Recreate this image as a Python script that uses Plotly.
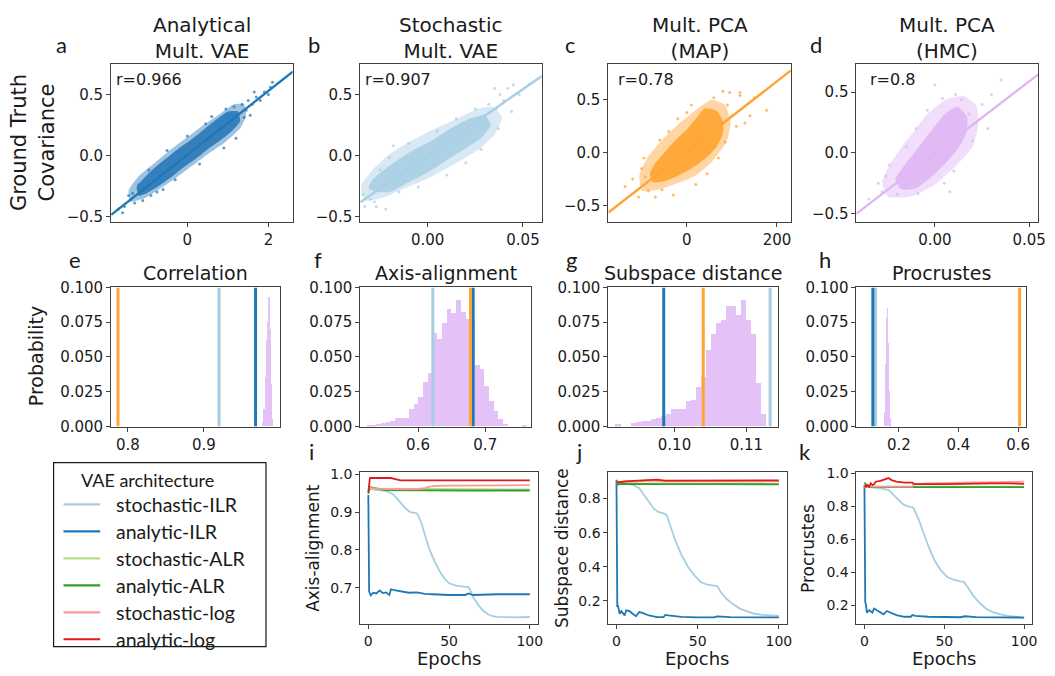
import plotly.graph_objects as go

# ======================= DATA =======================
# ---- Row 1: scatter of estimated vs ground-truth covariance (hand-read) ----
a_core_x = [-1.2, -1.0, -0.7, -0.4, -0.1, 0.2, 0.5, 0.8, 1.1, 1.3, 1.25, 1.0, 0.7, 0.4, 0.1, -0.2, -0.5, -0.8, -1.05, -1.25]
a_core_y = [-0.33, -0.31, -0.25, -0.18, -0.1, -0.03, 0.05, 0.12, 0.2, 0.28, 0.36, 0.36, 0.29, 0.21, 0.13, 0.06, -0.02, -0.1, -0.18, -0.26]
a_halo_x = [-1.4, -1.05, -0.7, -0.3, 0.1, 0.5, 0.9, 1.3, 1.45, 1.4, 1.15, 0.8, 0.4, 0.0, -0.4, -0.8, -1.2, -1.45]
a_halo_y = [-0.38, -0.35, -0.28, -0.19, -0.09, 0.01, 0.1, 0.22, 0.33, 0.42, 0.42, 0.34, 0.25, 0.15, 0.05, -0.06, -0.17, -0.29]
a_pts_x = [-1.55, -1.4, -1.35, -1.3, -1.45, -1.6, -1.1, -0.9, -0.95, -0.6, -0.3, -0.5, 0.0, 0.3, 0.6, 0.9, 1.2, 1.35,
           1.45, 1.5, 1.4, 1.6, 1.7, 1.8, 1.9, 2.0, 2.1, 2.05, 1.55, 1.65, 0.95, -1.2, -0.75, 0.45, 1.15, -1.7]
a_pts_y = [-0.42, -0.36, -0.31, -0.39, -0.33, -0.47, -0.37, -0.33, -0.12, -0.28, -0.2, 0.04, 0.16, -0.07, 0.32, 0.06, 0.14, 0.42,
           0.37, 0.45, 0.31, 0.42, 0.48, 0.45, 0.52, 0.5, 0.6, 0.56, 0.33, 0.52, 0.38, -0.24, -0.3, 0.26, 0.4, -0.44]

b_core_x = [-0.027, -0.02, -0.01, 0.0, 0.01, 0.02, 0.028, 0.033, 0.03, 0.022, 0.012, 0.002, -0.008, -0.016, -0.023, -0.029, -0.031]
b_core_y = [-0.30, -0.30, -0.22, -0.14, -0.04, 0.06, 0.14, 0.25, 0.33, 0.3, 0.22, 0.12, 0.04, -0.04, -0.12, -0.2, -0.27]
b_halo_x = [-0.033, -0.024, -0.012, 0.0, 0.013, 0.026, 0.035, 0.039, 0.034, 0.026, 0.014, 0.0, -0.011, -0.021, -0.029, -0.035]
b_halo_y = [-0.37, -0.35, -0.27, -0.19, -0.08, 0.04, 0.17, 0.31, 0.4, 0.38, 0.29, 0.19, 0.1, 0.0, -0.12, -0.25]
b_pts_x = [-0.033, -0.03, -0.034, -0.028, -0.025, -0.02, -0.015, -0.01, -0.005, 0.005, 0.01, 0.015, 0.02, 0.025, 0.032, 0.036,
           0.038, 0.04, 0.042, 0.045, 0.035, 0.048, 0.037, 0.044, -0.022, 0.028, -0.018, 0.0535, -0.027]
b_pts_y = [-0.42, -0.36, -0.32, -0.38, -0.12, -0.02, -0.3, 0.1, -0.26, 0.2, -0.16, 0.3, -0.06, 0.38, 0.42, 0.38,
           0.5, 0.45, 0.55, 0.58, 0.55, 0.5, 0.22, 0.36, -0.44, 0.05, 0.08, 0.585, -0.42]

c_core_x = [-75, -50, -20, 10, 40, 65, 80, 80, 65, 40, 20, 0, -25, -50, -70, -82]
c_core_y = [-0.28, -0.27, -0.22, -0.15, -0.06, 0.05, 0.18, 0.3, 0.4, 0.42, 0.32, 0.22, 0.12, 0.0, -0.1, -0.2]
c_halo_x = [-100, -65, -28, 18, 55, 88, 97, 85, 55, 22, -18, -55, -88, -105]
c_halo_y = [-0.36, -0.35, -0.3, -0.22, -0.09, 0.1, 0.28, 0.45, 0.5, 0.41, 0.27, 0.12, -0.05, -0.21]
c_pts_x = [-137, -107, -92, -100, -85, -70, -55, -120, -60, -40, -20, 0, 20, 45, 70, 95, 118, 129, 177, 150, 100, 90, 110,
           60, 80, -30, 10, 140, 85, 118, -95]
c_pts_y = [-0.32, -0.42, -0.23, -0.15, -0.36, -0.42, -0.35, -0.25, 0.12, 0.2, 0.32, 0.38, -0.3, -0.2, -0.05, 0.57, 0.54, 0.28,
           0.40, 0.52, 0.35, 0.45, 0.25, 0.52, 0.58, -0.4, 0.45, 0.35, 0.1, 0.57, -0.05]

d_core_x = [-0.018, -0.01, -0.002, 0.006, 0.013, 0.017, 0.017, 0.012, 0.006, 0.0, -0.006, -0.012, -0.017, -0.021]
d_core_y = [-0.3, -0.29, -0.2, -0.08, 0.05, 0.18, 0.3, 0.38, 0.33, 0.22, 0.1, -0.02, -0.12, -0.22]
d_halo_x = [-0.025, -0.013, 0.0, 0.011, 0.02, 0.023, 0.022, 0.015, 0.006, -0.004, -0.011, -0.018, -0.024, -0.028]
d_halo_y = [-0.36, -0.36, -0.26, -0.11, 0.05, 0.23, 0.39, 0.47, 0.44, 0.32, 0.18, 0.04, -0.1, -0.24]
d_pts_x = [-0.026, -0.02, -0.009, 0.0, 0.011, 0.018, 0.035, 0.025, 0.03, 0.022, 0.02, -0.03, -0.028, -0.015, -0.01, -0.004,
           0.005, 0.01, 0.028, 0.014, -0.024, 0.004, -0.035, 0.008]
d_pts_y = [-0.19, -0.34, -0.335, 0.56, 0.48, 0.32, 0.6, 0.4, 0.48, 0.25, 0.1, -0.25, -0.32, 0.05, 0.2, 0.35,
           -0.25, -0.15, 0.2, 0.44, -0.1, 0.45, -0.38, -0.32]

r_labels = ["r=0.966", "r=0.907", "r=0.78", "r=0.8"]
fit_slope = [0.262, 10.87, 0.003316, 11.87]
fit_intercept = [0.005, 0.0, 0.012, -0.006]
top_titles = ["Analytical<br>Mult. VAE", "Stochastic<br>Mult. VAE", "Mult. PCA<br>(MAP)", "Mult. PCA<br>(HMC)"]

# ---- Row 2: histograms (HMC samples) + model values ----
e_centers = [0.9785, 0.980, 0.9815, 0.983, 0.9845, 0.986, 0.9875, 0.989, 0.9905]
e_heights = [0.003, 0.012, 0.035, 0.062, 0.075, 0.093, 0.07, 0.03, 0.005]
e_width = 0.0015
f_centers = [0.5275, 0.5345, 0.5415, 0.5485, 0.5555, 0.5625, 0.5695, 0.5765, 0.5835, 0.5905, 0.5975, 0.6045, 0.6115,
             0.6185, 0.6255, 0.6325, 0.6395, 0.6465, 0.6535, 0.6605, 0.6675, 0.6745, 0.6815, 0.6885, 0.6955, 0.7025,
             0.7095, 0.7165, 0.7235, 0.7305, 0.7585]
f_heights = [0.001, 0.001, 0.0015, 0.002, 0.0028, 0.004, 0.006, 0.006, 0.006, 0.012, 0.016, 0.021, 0.032,
             0.038, 0.067, 0.063, 0.074, 0.084, 0.081, 0.091, 0.082, 0.077, 0.075, 0.044, 0.041, 0.029,
             0.018, 0.011, 0.005, 0.0015, 0.001]
f_width = 0.007
g_centers = [0.09219, 0.09428, 0.09498, 0.09567, 0.09637, 0.09707, 0.09777, 0.09847, 0.09916, 0.09986, 0.10056,
             0.10126, 0.10195, 0.10265, 0.10335, 0.10405, 0.10474, 0.10544, 0.10614, 0.10684, 0.10753, 0.10823,
             0.10893, 0.10963, 0.11033, 0.11102, 0.11172, 0.11242]
g_heights = [0.0014, 0.002, 0.003, 0.0035, 0.004, 0.0055, 0.006, 0.007, 0.0085, 0.012, 0.012,
             0.012, 0.018, 0.019, 0.028, 0.035, 0.055, 0.066, 0.074, 0.076, 0.0865, 0.0865,
             0.08, 0.091, 0.076, 0.066, 0.031, 0.0085]
g_width = 0.0007
h_centers = [0.1538, 0.1563, 0.1588, 0.1613, 0.1638, 0.1663, 0.1688, 0.1713, 0.1738]
h_heights = [0.002, 0.01, 0.045, 0.078, 0.085, 0.06, 0.025, 0.006, 0.001]
h_width = 0.0025
mid_titles = ["Correlation", "Axis-alignment", "Subspace distance", "Procrustes"]
# model values: [stochastic VAE, analytic VAE, MAP]
e_vlines = [0.92, 0.968, 0.787]
f_vlines = [0.622, 0.682, 0.678]
g_vlines = [0.1133, 0.0985, 0.104]
h_vlines = [0.122, 0.113, 0.605]

# ---- Row 3: training curves ----
series_names = ["stochastic-ILR", "analytic-ILR", "stochastic-ALR", "analytic-ALR", "stochastic-log", "analytic-log"]
series_colors = ["#a6cee3", "#1f78b4", "#b2df8a", "#33a02c", "#fb9a99", "#e31a1c"]

# Axis-alignment (i)
i_sILR_ep = [0, 5, 10, 13, 15, 18, 20, 23, 26, 30, 31, 33, 35, 38, 41, 44, 47, 50, 55, 60, 62, 63, 65, 68, 71, 74, 77, 80, 90, 100]
i_sILR = [0.962, 0.958, 0.957, 0.952, 0.948, 0.935, 0.925, 0.91, 0.9, 0.897, 0.89, 0.87, 0.84, 0.8, 0.77, 0.745, 0.725, 0.712,
          0.705, 0.703, 0.702, 0.695, 0.675, 0.655, 0.64, 0.63, 0.625, 0.623, 0.622, 0.623]
i_aILR_ep = [0, 0.5, 1.5, 3, 5, 7, 9, 11, 13, 14, 16, 20, 25, 30, 35, 40, 50, 60, 62, 65, 70, 80, 100]
i_aILR = [0.945, 0.69, 0.68, 0.687, 0.685, 0.693, 0.686, 0.688, 0.681, 0.696, 0.694, 0.69, 0.687, 0.688, 0.684, 0.683,
          0.681, 0.681, 0.685, 0.681, 0.682, 0.683, 0.683]
i_sALR_ep = [0, 1, 30, 60, 100]
i_sALR = [0.955, 0.962, 0.961, 0.96, 0.96]
i_aALR_ep = [0, 1, 10, 30, 60, 100]
i_aALR = [0.948, 0.966, 0.958, 0.957, 0.957, 0.957]
i_slog_ep = [0, 1, 5, 10, 20, 30, 35, 38, 42, 50, 100]
i_slog = [0.962, 0.964, 0.962, 0.961, 0.961, 0.961, 0.963, 0.967, 0.969, 0.970, 0.971]
i_alog_ep = [0, 1, 14, 17, 20, 100]
i_alog = [0.952, 0.99, 0.99, 0.986, 0.984, 0.984]

# Subspace distance (j)
j_sILR_ep = [0, 10, 14, 17, 20, 23, 26, 30, 31, 33, 36, 40, 44, 48, 52, 56, 60, 62, 64, 68, 72, 76, 80, 85, 90, 100]
j_sILR = [0.9, 0.88, 0.86, 0.82, 0.78, 0.74, 0.72, 0.71, 0.7, 0.64, 0.56, 0.47, 0.4, 0.35, 0.31, 0.295, 0.29, 0.287,
          0.255, 0.21, 0.18, 0.155, 0.14, 0.125, 0.118, 0.113]
j_aILR_ep = [0, 0.5, 1, 2, 3, 4, 5, 6, 8, 10, 12, 14, 16, 20, 25, 29, 30, 32, 40, 50, 60, 62, 65, 70, 100]
j_aILR = [0.91, 0.17, 0.17, 0.125, 0.14, 0.13, 0.115, 0.145, 0.14, 0.125, 0.11, 0.135, 0.13, 0.115, 0.105, 0.105,
          0.118, 0.115, 0.107, 0.104, 0.104, 0.11, 0.108, 0.105, 0.104]
j_sALR_ep = [0, 50, 100]
j_sALR = [0.888, 0.888, 0.887]
j_aALR_ep = [0, 1, 3, 10, 30, 60, 100]
j_aALR = [0.89, 0.882, 0.885, 0.884, 0.884, 0.884, 0.883]
j_slog_ep = [0, 10, 20, 30, 50, 100]
j_slog = [0.895, 0.9, 0.905, 0.9, 0.9, 0.9]
j_alog_ep = [0, 2, 5, 10, 15, 20, 25, 30, 40, 50, 60, 70, 80, 90, 100]
j_alog = [0.895, 0.895, 0.9, 0.903, 0.907, 0.91, 0.91, 0.905, 0.905, 0.904, 0.905, 0.906, 0.905, 0.906, 0.906]

# Procrustes (k)
k_sILR_ep = [0, 10, 15, 18, 21, 24, 27, 30, 31, 34, 37, 40, 44, 48, 52, 56, 60, 62, 64, 68, 72, 76, 80, 85, 90, 100]
k_sILR = [0.92, 0.91, 0.9, 0.87, 0.84, 0.815, 0.8, 0.795, 0.785, 0.72, 0.64, 0.56, 0.47, 0.41, 0.37, 0.355, 0.345, 0.343,
          0.32, 0.26, 0.215, 0.18, 0.16, 0.145, 0.135, 0.125]
k_aILR_ep = [0, 0.5, 1, 1.5, 3, 5, 6, 8, 10, 12, 14, 16, 20, 25, 29, 30, 32, 40, 50, 60, 63, 66, 70, 100]
k_aILR = [0.93, 0.22, 0.2, 0.155, 0.17, 0.155, 0.18, 0.17, 0.16, 0.145, 0.165, 0.155, 0.14, 0.13, 0.13, 0.14, 0.135,
          0.13, 0.128, 0.127, 0.133, 0.13, 0.128, 0.125]
k_sALR_ep = [0, 50, 100]
k_sALR = [0.92, 0.92, 0.92]
k_aALR_ep = [0, 1, 2, 5, 20, 50, 100]
k_aALR = [0.945, 0.93, 0.92, 0.918, 0.918, 0.917, 0.917]
k_slog_ep = [0, 10, 20, 30, 31, 40, 60, 80, 100]
k_slog = [0.92, 0.92, 0.92, 0.92, 0.935, 0.94, 0.945, 0.948, 0.95]
k_alog_ep = [0, 1, 2, 3, 4, 5, 6, 7, 10, 13, 15, 17, 20, 25, 30, 31, 40, 50, 60, 70, 80, 90, 100]
k_alog = [0.93, 0.92, 0.93, 0.92, 0.94, 0.93, 0.935, 0.95, 0.955, 0.965, 0.972, 0.96, 0.95, 0.945, 0.945, 0.935,
          0.933, 0.935, 0.937, 0.94, 0.94, 0.94, 0.937]
bottom_ylabels = ["Axis-alignment", "Subspace distance", "Procrustes"]

# ======================= FIGURE =======================
W, H = 1055, 676
FONT = "DejaVu Sans"
LFONT = "Lato"
TXT = "#1a1a1a"
C_LB, C_DB, C_OR = "#a6cee3", "#1f78b4", "#ffa533"
HIST_C = "#e4c2f7"

fig = go.Figure()

# pixel boxes (x0, x1, y0, y1)
boxes = {
    1: (112, 295, 56, 219), 2: (363, 546, 56, 219), 3: (613, 797, 56, 219), 4: (863, 1046, 56, 219),
    5: (112, 282, 286, 429), 6: (363, 535, 286, 429), 7: (613, 784, 286, 429), 8: (863, 1034, 286, 429),
    9: (363, 542, 476, 632), 10: (613, 793, 476, 632), 11: (863, 1040, 476, 632),
}
xr = {1: [-1.88, 2.6], 2: [-0.0354, 0.0599], 3: [-174, 231], 4: [-0.0416, 0.0547],
      5: [0.778, 1.0], 6: [0.514, 0.768], 7: [0.0908, 0.1144], 8: [0.058, 0.627],
      9: [-5, 105], 10: [-5, 105], 11: [-5, 105]}
yr = {1: [-0.548, 0.754], 2: [-0.548, 0.754], 3: [-0.657, 0.843], 4: [-0.57, 0.735],
      5: [0, 0.1], 6: [0, 0.1], 7: [0, 0.1], 8: [0, 0.1],
      9: [0.604, 1.005], 10: [0.064, 0.953], 11: [0.085, 1.007]}
xt = {1: ([0, 2], ["0", "2"]), 2: ([0, 0.05], ["0.00", "0.05"]), 3: ([0, 200], ["0", "200"]),
      4: ([0, 0.05], ["0.00", "0.05"]), 5: ([0.8, 0.9], ["0.8", "0.9"]), 6: ([0.6, 0.7], ["0.6", "0.7"]),
      7: ([0.10, 0.11], ["0.10", "0.11"]), 8: ([0.2, 0.4, 0.6], ["0.2", "0.4", "0.6"]),
      9: ([0, 50, 100], ["0", "50", "100"]), 10: ([0, 50, 100], ["0", "50", "100"]),
      11: ([0, 50, 100], ["0", "50", "100"])}
pv = [0, 0.025, 0.05, 0.075, 0.1]
pt = ["0.000", "0.025", "0.050", "0.075", "0.100"]
yt = {1: ([-0.5, 0, 0.5], ["\u22120.5", "0.0", "0.5"]), 2: ([-0.5, 0, 0.5], ["\u22120.5", "0.0", "0.5"]),
      3: ([-0.5, 0, 0.5], ["\u22120.5", "0.0", "0.5"]), 4: ([-0.5, 0, 0.5], ["\u22120.5", "0.0", "0.5"]),
      5: (pv, pt), 6: (pv, pt), 7: (pv, pt), 8: (pv, pt),
      9: ([0.7, 0.8, 0.9, 1.0], ["0.7", "0.8", "0.9", "1.0"]),
      10: ([0.2, 0.4, 0.6, 0.8], ["0.2", "0.4", "0.6", "0.8"]),
      11: ([0.2, 0.4, 0.6, 0.8, 1.0], ["0.2", "0.4", "0.6", "0.8", "1.0"])}

axkw = dict(showline=True, mirror=True, linecolor="#404040", linewidth=1, ticks="outside", ticklen=4,
            tickcolor="#404040", showgrid=False, zeroline=False, fixedrange=True)
for n, (x0, x1, y0, y1) in boxes.items():
    fs = 14 if n >= 9 else 15
    xa = dict(axkw, domain=[x0 / W, x1 / W], range=xr[n], anchor=f"y{n}", tickvals=xt[n][0], ticktext=xt[n][1],
              tickfont=dict(family=FONT, size=fs, color=TXT))
    ya = dict(axkw, domain=[1 - y1 / H, 1 - y0 / H], range=yr[n], anchor=f"x{n}", tickvals=yt[n][0],
              ticktext=yt[n][1], tickfont=dict(family=FONT, size=fs, color=TXT))
    sfx = "" if n == 1 else str(n)
    fig.update_layout(**{f"xaxis{sfx}": xa, f"yaxis{sfx}": ya})


def ax(n):
    return ("x" if n == 1 else f"x{n}"), ("y" if n == 1 else f"y{n}")


# ---- Row 1 ----
row1 = [(a_halo_x, a_halo_y, a_core_x, a_core_y, a_pts_x, a_pts_y, "#2a7ab9"),
        (b_halo_x, b_halo_y, b_core_x, b_core_y, b_pts_x, b_pts_y, "#a9cfe5"),
        (c_halo_x, c_halo_y, c_core_x, c_core_y, c_pts_x, c_pts_y, "#ffa533"),
        (d_halo_x, d_halo_y, d_core_x, d_core_y, d_pts_x, d_pts_y, "#dfb6f4")]
for k, (hx, hy, cx, cy, px, py, col) in enumerate(row1):
    n = k + 1
    xa, ya = ax(n)
    fig.add_trace(go.Scatter(x=hx + [hx[0]], y=hy + [hy[0]], mode="lines", fill="toself", fillcolor=col,
                             line=dict(width=0, color=col, shape="spline", smoothing=0.5),
                             opacity=0.45, xaxis=xa, yaxis=ya, showlegend=False, hoverinfo="skip"))
    fig.add_trace(go.Scatter(x=cx + [cx[0]], y=cy + [cy[0]], mode="lines", fill="toself", fillcolor=col,
                             line=dict(width=0, color=col, shape="spline", smoothing=0.5),
                             opacity=0.92, xaxis=xa, yaxis=ya, showlegend=False, hoverinfo="skip"))
    fig.add_trace(go.Scatter(x=px, y=py, mode="markers", marker=dict(size=3, color=col, opacity=0.75),
                             xaxis=xa, yaxis=ya, showlegend=False, hoverinfo="skip"))
    lx = xr[n]
    ly = [fit_slope[k] * v + fit_intercept[k] for v in lx]
    lc = C_DB if n == 1 else col
    fig.add_trace(go.Scatter(x=lx, y=ly, mode="lines", line=dict(color=lc, width=2.4),
                             xaxis=xa, yaxis=ya, showlegend=False, hoverinfo="skip"))

# ---- Row 2 ----
row2 = [(e_centers, e_heights, e_width, e_vlines), (f_centers, f_heights, f_width, f_vlines),
        (g_centers, g_heights, g_width, g_vlines), (h_centers, h_heights, h_width, h_vlines)]
for k, (cen, hei, wid, vl) in enumerate(row2):
    n = k + 5
    xa, ya = ax(n)
    fig.add_trace(go.Bar(x=cen, y=hei, width=[wid] * len(cen), marker=dict(color=HIST_C, line=dict(width=0)),
                         xaxis=xa, yaxis=ya, showlegend=False, hoverinfo="skip"))
    for v, c in zip(vl, [C_LB, C_DB, C_OR]):
        fig.add_trace(go.Scatter(x=[v, v], y=[0, 0.1], mode="lines", line=dict(color=c, width=3),
                                 xaxis=xa, yaxis=ya, showlegend=False, hoverinfo="skip"))
fig.update_layout(bargap=0)

# ---- Row 3 ----
row3 = [
    [(i_sILR_ep, i_sILR), (i_aILR_ep, i_aILR), (i_sALR_ep, i_sALR), (i_aALR_ep, i_aALR), (i_slog_ep, i_slog), (i_alog_ep, i_alog)],
    [(j_sILR_ep, j_sILR), (j_aILR_ep, j_aILR), (j_sALR_ep, j_sALR), (j_aALR_ep, j_aALR), (j_slog_ep, j_slog), (j_alog_ep, j_alog)],
    [(k_sILR_ep, k_sILR), (k_aILR_ep, k_aILR), (k_sALR_ep, k_sALR), (k_aALR_ep, k_aALR), (k_slog_ep, k_slog), (k_alog_ep, k_alog)],
]
for p, panel in enumerate(row3):
    n = p + 9
    xa, ya = ax(n)
    for s, (ep, val) in enumerate(panel):
        fig.add_trace(go.Scatter(x=ep, y=val, mode="lines", line=dict(color=series_colors[s], width=1.8),
                                 xaxis=xa, yaxis=ya, showlegend=False, hoverinfo="skip"))

# ---- Annotations ----
ann = []


def txt(x, y, s, size, family=FONT, angle=0, xanchor="center", yanchor="middle"):
    ann.append(dict(x=x / W, y=1 - y / H, xref="paper", yref="paper", text=s, showarrow=False, textangle=angle,
                    xanchor=xanchor, yanchor=yanchor, font=dict(family=family, size=size, color=TXT)))


for k in range(4):
    x0, x1, y0, y1 = boxes[k + 1]
    txt((x0 + x1) / 2, 30, top_titles[k], 20)
    txt(x0 + [3, 3, 8, 12][k], 72, r_labels[k], 16, xanchor="left")
    x0, x1, y0, y1 = boxes[k + 5]
    txt((x0 + x1) / 2, 271, mid_titles[k], 19)

for (lx, ly, lt) in [(62, 36, "a"), (316, 36, "b"), (575, 36, "c"), (822, 36, "d"),
                     (76, 257, "e"), (320, 257, "f"), (576, 257, "g"), (831, 257, "h"),
                     (314, 455, "i"), (583, 455, "j"), (811, 455, "k")]:
    txt(lx, ly, lt, 22, family=LFONT)

txt(33, 137, "Ground Truth<br>Covariance", 21, angle=-90)
txt(37, 357, "Probability", 19, angle=-90)
for (lx, lt) in zip([316, 567, 814], bottom_ylabels):
    txt(lx, 554, lt, 17, angle=-90)
for n in (9, 10, 11):
    x0, x1, y0, y1 = boxes[n]
    txt((x0 + x1) / 2, 667, "Epochs", 18)

# ---- Legend (drawn manually) ----
shapes = [dict(type="rect", xref="paper", yref="paper", x0=54 / W, x1=268 / W, y0=1 - 655 / H, y1=1 - 466 / H,
               line=dict(color="#1a1a1a", width=1.2), fillcolor="white")]
txt(80, 484, "VAE architecture", 18, family=LFONT, xanchor="left")
leg_y0, leg_dy = 509, 27.7
for s, (nm, col) in enumerate(zip(series_names, series_colors)):
    yy = leg_y0 + s * leg_dy
    shapes.append(dict(type="line", xref="paper", yref="paper", x0=64 / W, x1=101 / W, y0=1 - yy / H, y1=1 - yy / H,
                       line=dict(color=col, width=2.2)))
    txt(115, yy, nm, 19.5, family=LFONT, xanchor="left")

fig.update_layout(width=W, height=H, margin=dict(l=0, r=0, t=0, b=0), plot_bgcolor="white",
                  paper_bgcolor="white", annotations=ann, shapes=shapes, showlegend=False)

fig.write_html("out.html", config={"displayModeBar": False},
               post_script="document.body.style.margin='0px';document.body.style.padding='0px';")
